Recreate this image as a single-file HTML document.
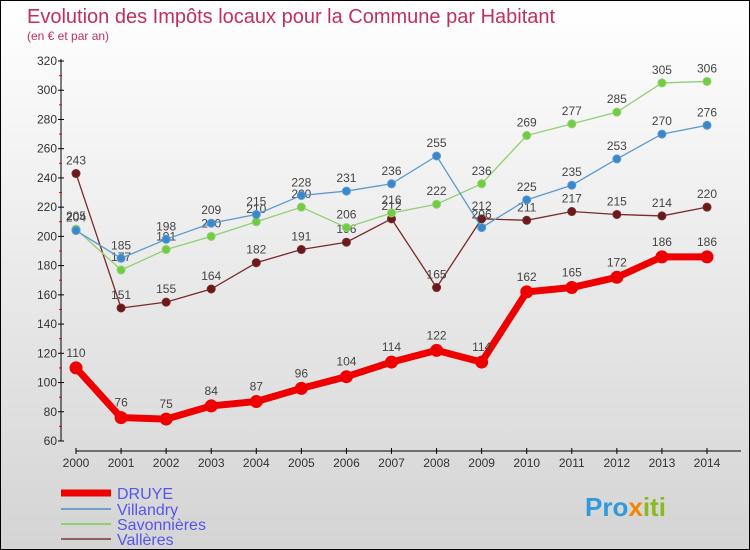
<!DOCTYPE html>
<html><head><meta charset="utf-8"><style>
body{margin:0}
#c{width:748px;height:548px;border:1px solid #000;background:linear-gradient(#fff,#d4d4d4);position:relative;font-family:"Liberation Sans",sans-serif}
</style></head><body>
<div id="c">
<svg id="s" width="748" height="548" style="position:absolute;left:0;top:0">
<text x="26" y="22" font-size="20" fill="#c0305a">Evolution des Impôts locaux pour la Commune par Habitant</text>
<text x="26" y="39" font-size="12" fill="#c0305a">(en € et par an)</text>
<g id="ax"></g><g id="pl"></g>
<g font-size="16" fill="#5555ee">
<line x1="60" y1="492" x2="110" y2="492" stroke="#e00" stroke-width="7"/><text x="116" y="498">DRUYE</text>
<line x1="60" y1="508" x2="110" y2="508" stroke="#6fa0c8" stroke-width="2"/><text x="116" y="514">Villandry</text>
<line x1="60" y1="523" x2="110" y2="523" stroke="#90d070" stroke-width="2"/><text x="116" y="529">Savonnières</text>
<line x1="60" y1="538" x2="110" y2="538" stroke="#906060" stroke-width="2"/><text x="116" y="544">Vallères</text>
</g>
<text x="584" y="515" font-size="26" font-weight="bold" fill="#3399dd">Pro<tspan fill="#ee8800">x</tspan><tspan fill="#88bb22">iti</tspan></text>
</svg></div>
<script>
const years=[2000,2001,2002,2003,2004,2005,2006,2007,2008,2009,2010,2011,2012,2013,2014];
const druye=[110,76,75,84,87,96,104,114,122,114,162,165,172,186,186];
const villandry=[204,185,198,209,215,228,231,236,255,206,225,235,253,270,276];
const savonnieres=[205,177,191,200,210,220,206,216,222,236,269,277,285,305,306];
const valleres=[243,151,155,164,182,191,196,212,165,212,211,217,215,214,220];
const yTicks=[60,80,100,120,140,160,180,200,220,240,260,280,300,320];
const NS="http://www.w3.org/2000/svg";
const X=i=>75+i*(706-75)/(years.length-1);
const Y=v=>440-(v-60)*380/260;
function mk(t,a,p){const e=document.createElementNS(NS,t);for(const k in a)e.setAttribute(k,a[k]);p.appendChild(e);return e;}
const ax=document.getElementById('ax'),pl=document.getElementById('pl');
const ya=mk('line',{x1:60,y1:58,x2:60,y2:440,stroke:'#000'},ax);


const xa=mk('line',{x1:75,y1:450,x2:740,y2:450,stroke:'#000'},ax);


yTicks.forEach((v,i)=>{mk('line',{x1:57,x2:63,y1:Y(v),y2:Y(v),stroke:'#000'},ax);
 if(i<yTicks.length-1)mk('line',{x1:58,x2:61,y1:Y(v+10),y2:Y(v+10),stroke:'#e00'},ax);
 const t=mk('text',{x:56,y:Y(v)+4,'text-anchor':'end','font-size':12,fill:'#333'},ax);t.textContent=v;
 
 });
years.forEach((y,i)=>{mk('line',{x1:X(i),x2:X(i),y1:447,y2:453,stroke:'#000'},ax);
 const t=mk('text',{x:X(i),y:466,'text-anchor':'middle','font-size':12,fill:'#333'},ax);t.textContent=y;
 
 });
function series(d,col,dot,w,r,name){
 const p=mk('polyline',{points:d.map((v,i)=>X(i)+','+Y(v)).join(' '),fill:'none',stroke:col,'stroke-width':w},pl);
 
 
 d.forEach((v,i)=>{const c=mk('circle',{cx:X(i),cy:Y(v),r:r,fill:dot,stroke:col,'stroke-width':1},pl);
  
  
  const t=mk('text',{x:X(i),y:Y(v)-(r+5),'text-anchor':'middle','font-size':12,fill:'#444'},pl);t.textContent=v;
  
  });
}
series(valleres,'#7a2a2a','#6a1a1a',1.3,4,'valleres');
series(savonnieres,'#90d070','#70cc40',1.3,4,'savonnieres');
series(villandry,'#5a9ad0','#3a88cc',1.3,4,'villandry');
series(druye,'#ee0000','#ee0000',7,6,'druye');
</script>
</body></html>
